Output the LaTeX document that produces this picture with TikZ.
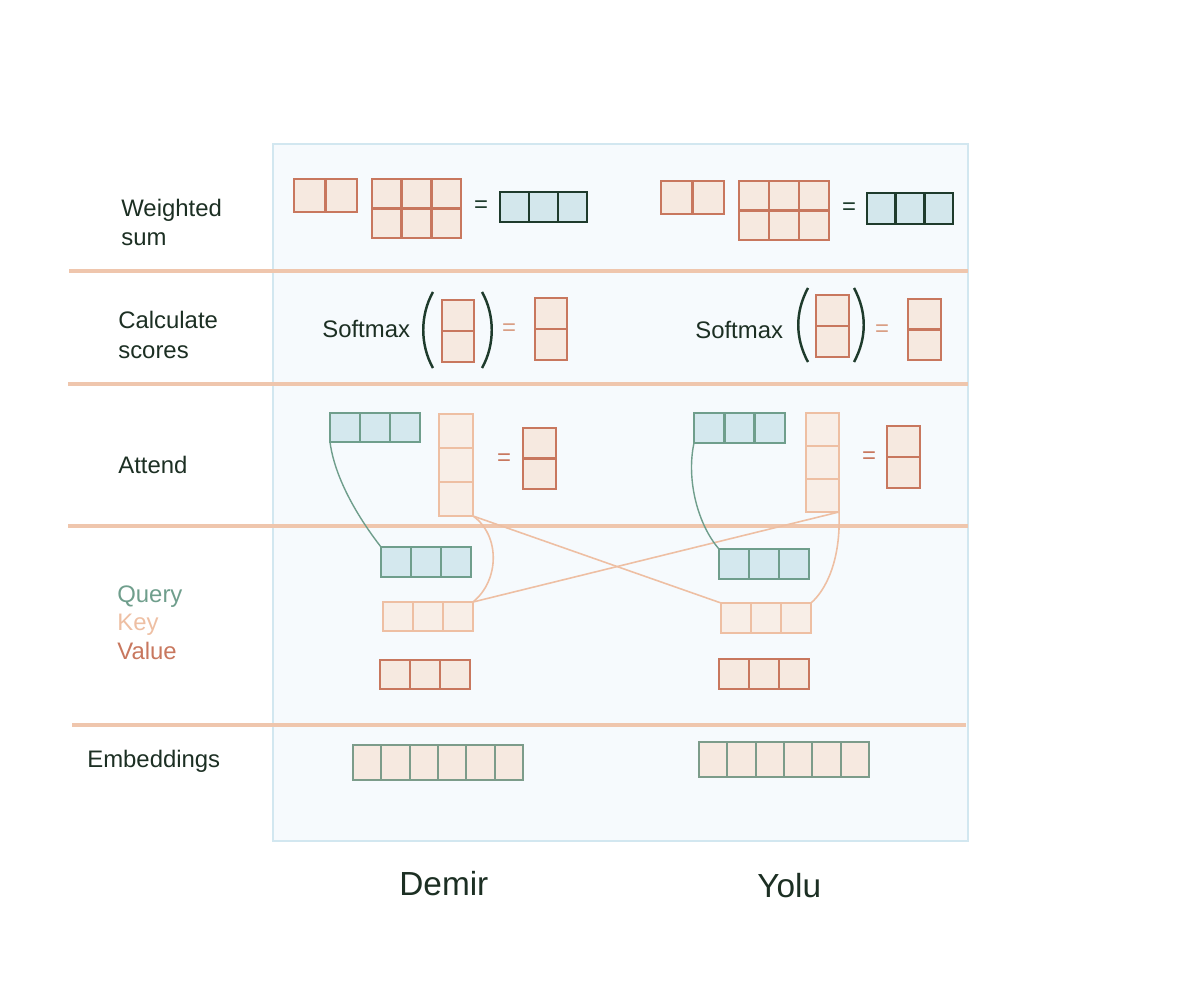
\documentclass[tikz,border=0pt]{standalone}
\usepackage{fontspec}
\setmainfont{Liberation Sans}
\usetikzlibrary{calc}
\definecolor{valc}{HTML}{C8775E}
\definecolor{keyc}{HTML}{EEBFA3}
\definecolor{qc}{HTML}{6F9E8C}
\definecolor{darkc}{HTML}{1E3B2C}
\definecolor{cellfill}{HTML}{F6E9E0}
\definecolor{keyfill}{HTML}{F8EEE7}
\definecolor{qfill}{HTML}{D4E8EE}
\definecolor{resfill}{HTML}{D3E7EC}
\definecolor{embc}{HTML}{7C9C8A}
\definecolor{sepc}{HTML}{EFC6AD}
\definecolor{panelc}{HTML}{D2E7F0}
\definecolor{panelfill}{HTML}{F6FAFD}
\definecolor{txtc}{HTML}{1C2F23}
\definecolor{eqsoft}{HTML}{D99E84}
\newcommand{\cells}[8]{%
  \node[#2, anchor=north west, minimum width={(#5-#3)*0.02cm}, minimum height={(#6-#4)*0.02cm}] (#1) at (#3,#4) {};
  \ifnum#7>1 \foreach \i in {2,...,#7}{\draw[#2line] ($(#1.north west)!{(\i-1)/#7}!(#1.north east)$) -- ($(#1.south west)!{(\i-1)/#7}!(#1.south east)$);}\fi
  \ifnum#8>1 \foreach \j in {2,...,#8}{\draw[#2line] ($(#1.north west)!{(\j-1)/#8}!(#1.south west)$) -- ($(#1.north east)!{(\j-1)/#8}!(#1.south east)$);}\fi
}
\begin{document}
\begin{tikzpicture}[x=0.02cm,y=-0.02cm,
  boxbase/.style={inner sep=0pt, outer sep=0pt, rectangle},
  val/.style={boxbase, draw=valc, fill=cellfill, line width=1.6pt},
  valline/.style={draw=valc, line width=1.6pt},
  key/.style={boxbase, draw=keyc, fill=keyfill, line width=1.3pt},
  keyline/.style={draw=keyc, line width=1.3pt},
  qry/.style={boxbase, draw=qc, fill=qfill, line width=1.6pt},
  qryline/.style={draw=qc, line width=1.6pt},
  res/.style={boxbase, draw=darkc, fill=resfill, line width=1.6pt},
  resline/.style={draw=darkc, line width=1.6pt},
  emb/.style={boxbase, draw=embc, fill=cellfill, line width=1.3pt},
  embline/.style={draw=embc, line width=1.3pt},
  sep/.style={draw=sepc, line width=2.4pt},
  lbl/.style={anchor=base west, inner sep=0pt, text=txtc, font=\fontsize{13.6pt}{16.6pt}\selectfont, align=left},
  word/.style={anchor=base west, inner sep=0pt, text=txtc, font=\fontsize{19pt}{22pt}\selectfont},
  eqs/.style={inner sep=0pt, font=\fontsize{13.6pt}{16pt}\selectfont},
  paren/.style={draw=darkc, line width=1.4pt},
  qconn/.style={draw=qc, line width=0.8pt},
  kconn/.style={draw=keyc, line width=0.9pt}]
\useasboundingbox (0,0) rectangle (1191,1000);
% panel
\node[boxbase, draw=panelc, fill=panelfill, line width=1.6pt, anchor=north west,
  minimum width={(968-273)*0.02cm}, minimum height={(841-144)*0.02cm}] (panel) at (273,144) {};
% separators
\coordinate (s1a) at (69,271); \coordinate (s1b) at (968,271);
\coordinate (s2a) at (68,384); \coordinate (s2b) at (968,384);
\coordinate (s3a) at (68,526); \coordinate (s3b) at (968,526);
\coordinate (s4a) at (72,725); \coordinate (s4b) at (966,725);
\draw[sep] (s1a) -- (s1b);
\draw[sep] (s2a) -- (s2b);
\draw[sep] (s3a) -- (s3b);
\draw[sep] (s4a) -- (s4b);
% row labels (base = baseline of last line)
\node[lbl] (lw) at (121,246) {Weighted\\sum};
\node[lbl] (lc) at (118,358) {Calculate\\scores};
\node[lbl] (la) at (118,474) {Attend};
\node[lbl, text=qc] (lq) at (117,602) {Query};
\node[lbl, text=keyc] (lk) at (117,630) {Key};
\node[lbl, text=valc] (lv) at (117,659) {Value};
\node[lbl] (le) at (87,767) {Embeddings};
% words
\node[word] (demir) at (399,895) {Demir};
\node[word] (yolu) at (757,897) {Yolu};
% weighted sum
\cells{wA}{val}{294}{179}{357}{212}{2}{1}
\cells{mA}{val}{372}{179}{461}{238}{3}{2}
\node[eqs, text=darkc] (eqwA) at (481,207) {=};
\cells{rA}{res}{500}{192}{587}{222}{3}{1}
\cells{wB}{val}{661}{181}{724}{214}{2}{1}
\cells{mB}{val}{739}{181}{829}{240}{3}{2}
\node[eqs, text=darkc] (eqwB) at (849,209) {=};
\cells{rB}{res}{867}{193}{953}{224}{3}{1}
% softmax
\node[lbl] (smA) at (322,338) {Softmax};
\draw[paren] (433,292) .. controls (420,315) and (420,345) .. (433,368);
\draw[paren] (482,292) .. controls (495,315) and (495,345) .. (482,368);
\cells{sA}{val}{442}{300}{474}{362}{1}{2}
\node[eqs, text=eqsoft] (eqsA) at (509,330) {=};
\cells{soA}{val}{535}{298}{567}{360}{1}{2}
\node[lbl] (smB) at (695,339) {Softmax};
\draw[paren] (808,288) .. controls (795,312) and (795,338) .. (808,362);
\draw[paren] (854,288) .. controls (867,312) and (867,338) .. (854,362);
\cells{sB}{val}{816}{295}{849}{357}{1}{2}
\node[eqs, text=eqsoft] (eqsB) at (882,331) {=};
\cells{soB}{val}{908}{299}{941}{360}{1}{2}
% attend and query/key/value boxes
\cells{qA}{qry}{330}{413}{420}{442}{3}{1}
\cells{kA}{key}{439}{414}{473}{516}{1}{3}
\node[eqs, text=valc] (eqaA) at (504,460) {=};
\cells{aA}{val}{523}{428}{556}{489}{1}{2}
\cells{qB}{qry}{694}{413}{785}{443}{3}{1}
\cells{kB}{key}{806}{413}{839}{512}{1}{3}
\node[eqs, text=valc] (eqaB) at (869,458) {=};
\cells{aB}{val}{887}{426}{920}{488}{1}{2}
\cells{qa}{qry}{381}{547}{471}{577}{3}{1}
\cells{ka}{key}{383}{602}{473}{631}{3}{1}
\cells{va}{val}{380}{660}{470}{689}{3}{1}
\cells{qb}{qry}{719}{549}{809}{579}{3}{1}
\cells{kb}{key}{721}{603}{811}{633}{3}{1}
\cells{vb}{val}{719}{659}{809}{689}{3}{1}
% connectors
\draw[qconn] (qA.south west) .. controls (335,480) and (360,520) .. (qa.north west);
\draw[kconn] (kA.south east) .. controls (500,535) and (500,580) .. (ka.north east);
\draw[kconn] (kA.south east) -- (kb.north west);
\draw[kconn] (ka.north east) -- (kB.south east);
\draw[qconn] (qB.south west) .. controls (686,480) and (698,525) .. (qb.north west);
\draw[kconn] (kB.south east) .. controls (841,560) and (826,590) .. (kb.north east);
% embeddings
\cells{ea}{emb}{353}{745}{523}{780}{6}{1}
\cells{eb}{emb}{699}{742}{869}{777}{6}{1}
\end{tikzpicture}
\end{document}
